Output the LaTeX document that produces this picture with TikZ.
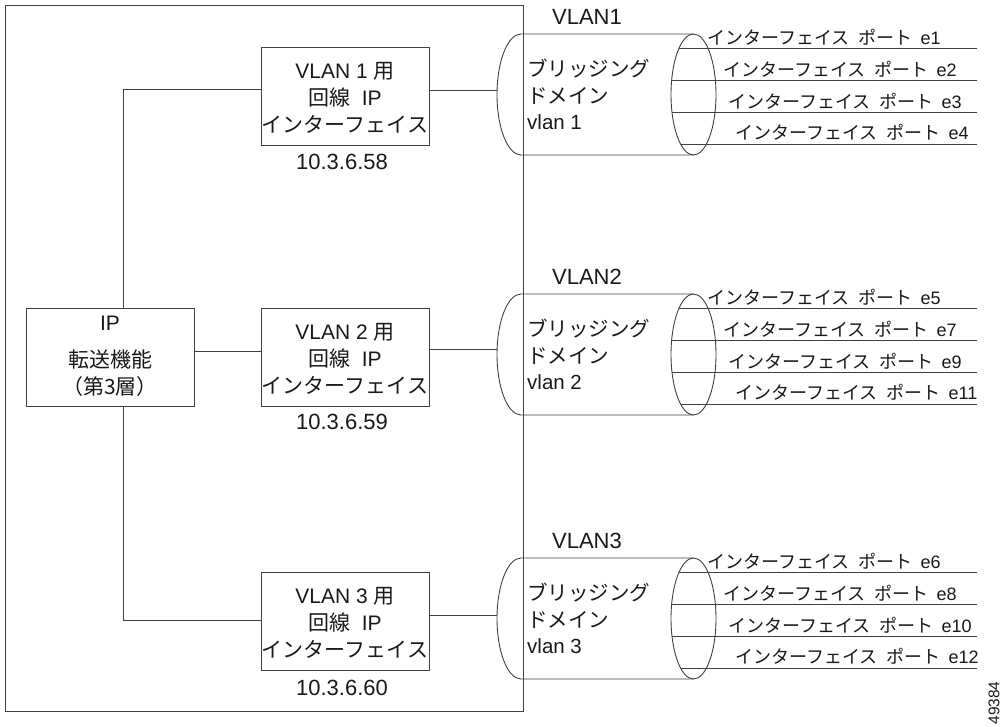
\documentclass[tikz,border=0pt]{standalone}
\usepackage{fontspec}
\setmainfont{Liberation Sans}
\newfontfamily\jp{Noto Sans CJK JP}
\begin{document}
\begin{tikzpicture}[x=1pt,y=-1pt,
  ln/.style={draw=black!75, line width=0.9pt},
  boxs/.style={ln, rectangle, minimum width=168pt, minimum height=98pt, inner sep=0pt},
  bt/.style={font=\fontsize{21}{27}\selectfont, align=center, inner sep=0pt, text=black!90},
  bl/.style={font=\fontsize{21}{27}\selectfont, anchor=base, inner sep=0pt, text=black!90},
  ipt/.style={font=\fontsize{22}{26}\selectfont, inner sep=0pt, text=black!90},
  vt/.style={font=\fontsize{22}{26}\selectfont, inner sep=0pt, text=black!90},
  ct/.style={font=\fontsize{20.5}{26.5}\selectfont, align=left, anchor=west, inner sep=0pt, text=black!90},
  pt/.style={font=\fontsize{18}{20}\selectfont, anchor=west, inner sep=0pt, text=black!90},
]
\useasboundingbox (0,0) rectangle (1003,726);

% outer frame
\node[ln, rectangle, minimum width=518pt, minimum height=706.5pt, inner sep=0pt] (frame) at (264,358.25) {};

% boxes
\node[boxs] (ipf) at (110,357) {};
\node[boxs] (v1) at (345,96) {};
\node[boxs] (v2) at (345,357) {};
\node[boxs] (v3) at (345,621) {};

\node[bl] (ipt1) at (110,330) {IP};
\node[bl] (ipt2) at (110,367) {\jp 転送機能};
\node[bl] (ipt3) at (110,394) {\jp （第3層）};
\node[bt] (v1t) at ([yshift=-2pt]v1.center) {VLAN 1 {\jp 用}\\{\jp 回線}\hspace{0.55em}IP\\{\jp インターフェイス}};
\node[bt] (v2t) at ([yshift=-2pt]v2.center) {VLAN 2 {\jp 用}\\{\jp 回線}\hspace{0.55em}IP\\{\jp インターフェイス}};
\node[bt] (v3t) at ([yshift=-2pt]v3.center) {VLAN 3 {\jp 用}\\{\jp 回線}\hspace{0.55em}IP\\{\jp インターフェイス}};

\node[ipt] (a1) at (342,162) {10.3.6.58};
\node[ipt] (a2) at (342,422) {10.3.6.59};
\node[ipt] (a3) at (342,688) {10.3.6.60};

% cylinders
\foreach \n/\t/\pa/\pb/\pc/\pd in {1/34/e1/e2/e3/e4, 2/294/e5/e7/e9/e11, 3/558/e6/e8/e10/e12} {
  \pgfmathsetmacro\cy{\t+60.5}
  \pgfmathsetmacro\bt{\t+121}
  \draw[ln] (693.5,\t) -- (521,\t) arc[start angle=90, end angle=270, x radius=24pt, y radius=60.5pt] -- (693.5,\bt);
  \draw[ln] (693.5,\cy) ellipse[x radius=22.5pt, y radius=60.5pt];
  \node[vt] (vl\n) at (587,\t-17) {VLAN\n};
  \node[ct] (ct\n) at (527,\cy) {{\jp ブリッジング}\\{\jp ドメイン}\\vlan \n};
  \foreach \o/\lx/\lab [count=\k] in {14.5/707/\pa, 46.5/723/\pb, 78.5/728/\pc, 110/735/\pd} {
    \pgfmathsetmacro\yy{\t+\o}
    \pgfmathsetmacro\xx{693.5-22.5*sqrt(1-((\yy-\cy)/60.5)^2)}
    \coordinate (ps\n\k) at (\xx,\yy);
    \coordinate (pe\n\k) at (977,\yy);
    \draw[ln] (ps\n\k) -- (pe\n\k);
    \node[pt] (pl\n\k) at (\lx,\yy-11.5) {{\jp インターフェイス}\hspace{0.5em}{\jp ポート}\hspace{0.45em}\lab};
  }
}

\coordinate (cl1) at (497.1,90);
\coordinate (cl2) at (497.1,349);
\coordinate (cl3) at (497.1,615);

% connectors
\coordinate (j1) at (123,89);
\coordinate (j3) at (123,620);
\draw[ln] (ipf.north -| j1) -- (j1) -- (v1.west |- j1);
\draw[ln] (ipf.south -| j3) -- (j3) -- (v3.west |- j3);
\draw[ln] ([yshift=6pt]ipf.east) -- ([yshift=6pt]v2.west);
\draw[ln] ([yshift=6pt]v1.east) -- (cl1);
\draw[ln] ([yshift=8pt]v2.east) -- (cl2);
\draw[ln] ([yshift=6pt]v3.east) -- (cl3);

\node[rotate=90, font=\fontsize{15.5}{18}\selectfont, inner sep=0pt, text=black!90] (fid) at (994,703) {49384};
\end{tikzpicture}
\end{document}
